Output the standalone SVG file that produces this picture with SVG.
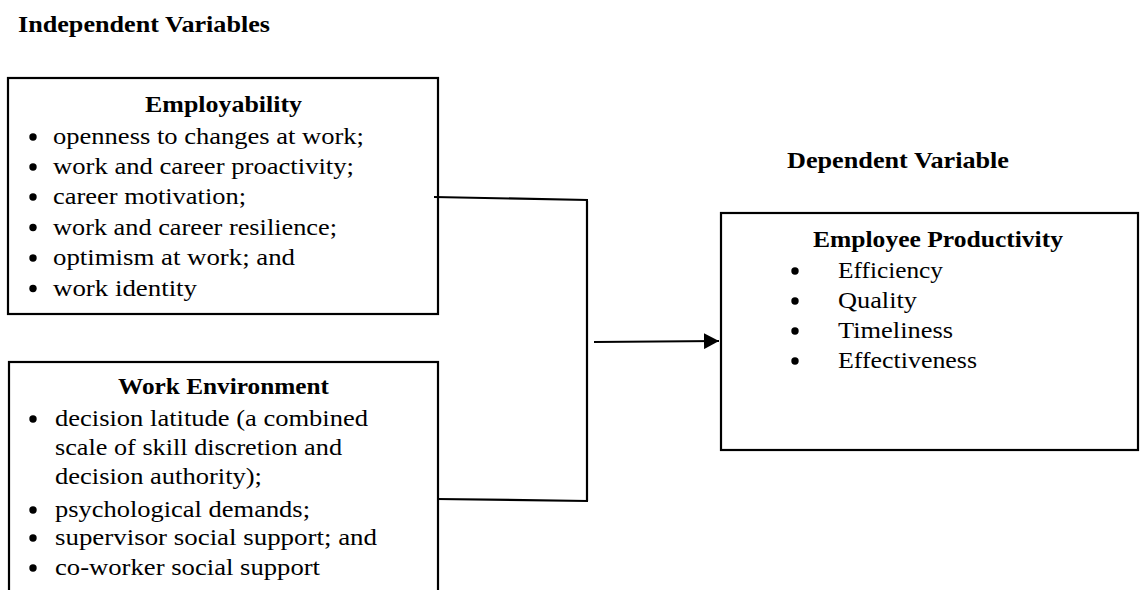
<svg xmlns="http://www.w3.org/2000/svg" width="1140" height="590" viewBox="0 0 1140 590">
<defs>
<style>
.box{fill:#fff;stroke:#000;stroke-width:2.2}
.t{font-family:"Liberation Serif","Times New Roman",serif;font-size:23px;fill:#000}
.b{font-weight:bold}
.dot{fill:#000}
.conn{stroke:#000;stroke-width:2.2;fill:none}
</style>
<marker id="arr" markerWidth="16" markerHeight="16" refX="15" refY="8" orient="auto" markerUnits="userSpaceOnUse">
<path d="M0,0 L15,8 L0,16 Z" fill="#000"/>
</marker>
</defs>
<rect width="1140" height="590" fill="#fff"/>
<text class="t b" x="18" y="32" textLength="252" lengthAdjust="spacingAndGlyphs">Independent Variables</text>
<text class="t b" x="787" y="168" textLength="222" lengthAdjust="spacingAndGlyphs">Dependent Variable</text>

<g id="employability">
<rect class="box" x="8" y="78" width="430" height="236"/>
<text class="t b" x="145" y="112" textLength="157" lengthAdjust="spacingAndGlyphs">Employability</text>
<circle class="dot" cx="33" cy="137" r="3.7"/>
<text class="t" x="53" y="144" textLength="311" lengthAdjust="spacingAndGlyphs">openness to changes at work;</text>
<circle class="dot" cx="33" cy="167" r="3.7"/>
<text class="t" x="53" y="174" textLength="301" lengthAdjust="spacingAndGlyphs">work and career proactivity;</text>
<circle class="dot" cx="33" cy="197" r="3.7"/>
<text class="t" x="53" y="204" textLength="193" lengthAdjust="spacingAndGlyphs">career motivation;</text>
<circle class="dot" cx="33" cy="227.5" r="3.7"/>
<text class="t" x="53" y="234.5" textLength="284" lengthAdjust="spacingAndGlyphs">work and career resilience;</text>
<circle class="dot" cx="33" cy="258" r="3.7"/>
<text class="t" x="53" y="265" textLength="242" lengthAdjust="spacingAndGlyphs">optimism at work; and</text>
<circle class="dot" cx="33" cy="288.5" r="3.7"/>
<text class="t" x="53" y="295.5" textLength="144" lengthAdjust="spacingAndGlyphs">work identity</text>
</g>

<g id="work-environment">
<rect class="box" x="9" y="362" width="429" height="240"/>
<text class="t b" x="118" y="394" textLength="211" lengthAdjust="spacingAndGlyphs">Work Environment</text>
<circle class="dot" cx="33" cy="419" r="3.7"/>
<text class="t" x="55" y="426" textLength="313" lengthAdjust="spacingAndGlyphs">decision latitude (a combined</text>
<text class="t" x="55" y="455" textLength="287" lengthAdjust="spacingAndGlyphs">scale of skill discretion and</text>
<text class="t" x="55" y="484" textLength="207" lengthAdjust="spacingAndGlyphs">decision authority);</text>
<circle class="dot" cx="33" cy="510" r="3.7"/>
<text class="t" x="55" y="517" textLength="255" lengthAdjust="spacingAndGlyphs">psychological demands;</text>
<circle class="dot" cx="33" cy="538" r="3.7"/>
<text class="t" x="55" y="545" textLength="322" lengthAdjust="spacingAndGlyphs">supervisor social support; and</text>
<circle class="dot" cx="33" cy="568" r="3.7"/>
<text class="t" x="55" y="575" textLength="265" lengthAdjust="spacingAndGlyphs">co-worker social support</text>
</g>

<g id="employee-productivity">
<rect class="box" x="721" y="213" width="417" height="237"/>
<text class="t b" x="813" y="247" textLength="250" lengthAdjust="spacingAndGlyphs">Employee Productivity</text>
<circle class="dot" cx="795" cy="271" r="3.7"/>
<text class="t" x="838" y="278" textLength="105" lengthAdjust="spacingAndGlyphs">Efficiency</text>
<circle class="dot" cx="795" cy="301" r="3.7"/>
<text class="t" x="838" y="308" textLength="79" lengthAdjust="spacingAndGlyphs">Quality</text>
<circle class="dot" cx="795" cy="331" r="3.7"/>
<text class="t" x="838" y="338" textLength="115" lengthAdjust="spacingAndGlyphs">Timeliness</text>
<circle class="dot" cx="795" cy="361" r="3.7"/>
<text class="t" x="838" y="368" textLength="139" lengthAdjust="spacingAndGlyphs">Effectiveness</text>
</g>

<g id="connectors">
<path class="conn" d="M434,197 L588,200"/>
<path class="conn" d="M587,201 L587,501"/>
<path class="conn" d="M437,499 L588,501"/>
<path class="conn" d="M594,342 L719,341" marker-end="url(#arr)"/>
</g>
</svg>
